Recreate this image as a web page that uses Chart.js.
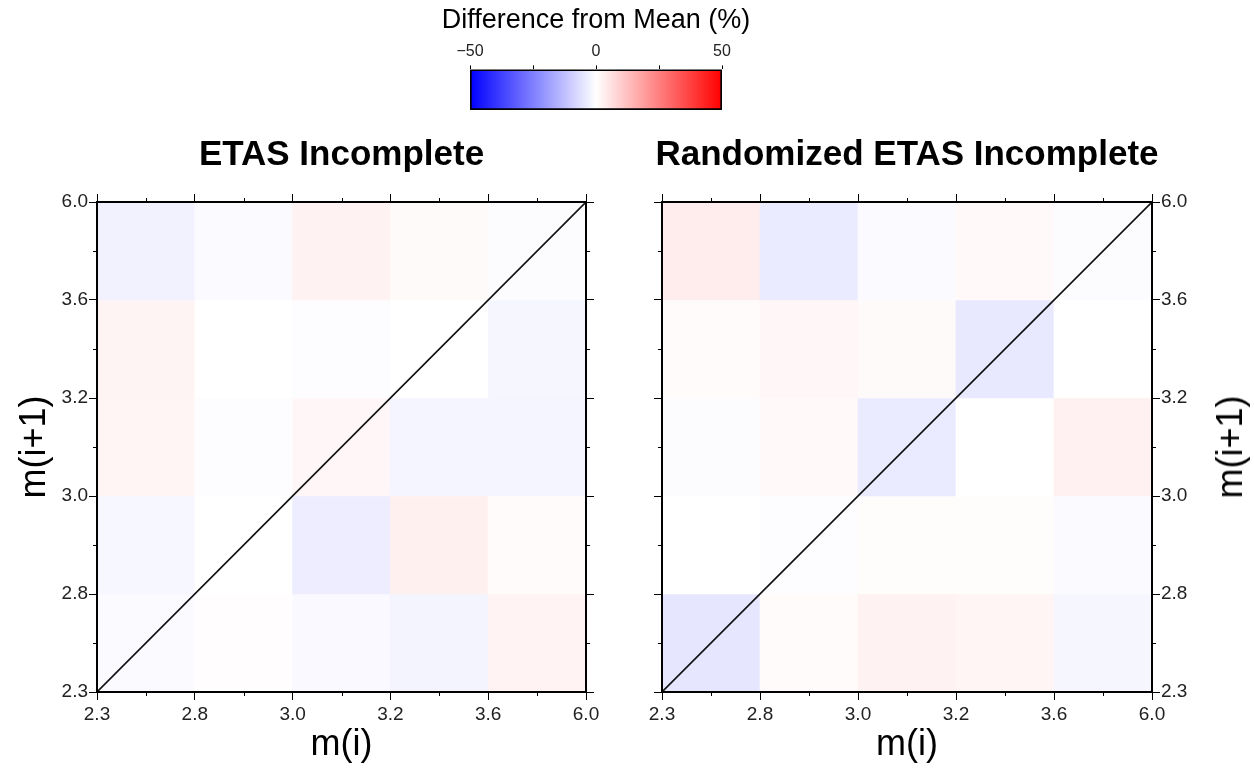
<!DOCTYPE html>
<html>
<head>
<meta charset="utf-8">
<title>Difference from Mean</title>
<script src="https://cdn.jsdelivr.net/npm/chart.js@4.4.1/dist/chart.umd.min.js"></script>
<style>
  html, body { margin: 0; padding: 0; background: #fff; }
  body { width: 1254px; height: 769px; position: relative; overflow: hidden; font-family: "Liberation Sans", Arial, sans-serif; }
  canvas { position: absolute; }
  #cbar { left: 396px; top: 0; }
  #leftChart { left: 0; top: 120px; }
  #rightChart { left: 560px; top: 120px; }
  .ylabel-right {
    position: absolute; left: 1230px; top: 447px;
    transform: translate(-50%, -50%) rotate(-90deg);
    font-family: "Liberation Sans", Arial, sans-serif;
    font-size: 36px; line-height: 1; white-space: nowrap; color: #000;
  }
</style>
</head>
<body>
<canvas id="cbar" width="400" height="125"></canvas>
<canvas id="leftChart" width="683" height="649"></canvas>
<canvas id="rightChart" width="694" height="649"></canvas>
<div class="ylabel-right">m(i+1)</div>
<script>
// magnitude bin edges, shared by both axes
const BIN_EDGES = ['2.3', '2.8', '3.0', '3.2', '3.6', '6.0'];

// difference from mean (%), rows go from the bottom bin (2.3-2.8) up to the top bin (3.6-6.0)
const ETAS_INCOMPLETE = [
    [-0.8, 0.3, -1.2, -2.2, 2.3],
    [-1.6, 0.0, -3.5, 3.0, 0.8],
    [2.0, -0.4, 1.5, -2.0, -2.0],
    [2.2, 0.0, -0.3, 0.0, -1.8],
    [-2.5, -0.8, 2.5, 1.0, -0.6]
];
const RANDOMIZED_ETAS = [
    [-5.0, 0.8, 2.5, 2.0, -1.8],
    [0.0, -0.4, 0.5, 0.6, -0.8],
    [-0.6, 1.2, -4.0, 0.0, 2.8],
    [0.8, 1.5, 1.0, -4.5, 0.0],
    [3.5, -4.0, -0.8, 1.2, -0.5]
];

const CBAR_RANGE = [-50, 50];
const CBAR_LABELS = [-50, 0, 50];

const FONT = "'Liberation Sans', Arial, sans-serif";
Chart.defaults.font.family = FONT;

// blue - white - red polar palette
function polarColor(v) {
    const t = Math.min(Math.abs(v) / CBAR_RANGE[1], 1);
    const c = Math.round(255 * (1 - t));
    return v < 0 ? `rgb(${c},${c},255)` : `rgb(255,${c},${c})`;
}

function cellData(grid) {
    const cells = [];
    grid.forEach((row, r) => {
        row.forEach((v, c) => cells.push({ x: c + 0.5, y: [r, r + 1], v }));
    });
    return cells;
}

// short ticks at the bin centres on all four sides
const minorTicks = {
    id: 'minorTicks',
    afterDraw(chart) {
        const { ctx, chartArea: a } = chart;
        const x = chart.scales.x;
        const y = chart.scales.y;
        ctx.save();
        ctx.strokeStyle = '#000';
        ctx.lineWidth = 1;
        ctx.beginPath();
        for (let i = 0; i < BIN_EDGES.length - 1; i++) {
            const px = Math.round(x.getPixelForValue(i + 0.5)) + 0.5;
            const py = Math.round(y.getPixelForValue(i + 0.5)) + 0.5;
            ctx.moveTo(px, a.bottom); ctx.lineTo(px, a.bottom + 4);
            ctx.moveTo(px, a.top); ctx.lineTo(px, a.top - 4);
            ctx.moveTo(a.left, py); ctx.lineTo(a.left - 4, py);
            ctx.moveTo(a.right, py); ctx.lineTo(a.right + 4, py);
        }
        ctx.stroke();
        ctx.restore();
    }
};

function frameAxis(axis, position, size, withLabels, title) {
    const horizontal = axis === 'x';
    return {
        type: 'linear',
        axis,
        position,
        min: 0,
        max: BIN_EDGES.length - 1,
        offset: false,
        ticks: {
            display: withLabels,
            stepSize: 1,
            autoSkip: false,
            maxRotation: 0,
            padding: horizontal ? 3 : 1,
            color: '#222',
            font: { size: 19 },
            callback: v => BIN_EDGES[v]
        },
        grid: { drawOnChartArea: false, offset: false, tickLength: 8, tickColor: '#000', tickWidth: 1 },
        border: { color: '#000', width: 2, z: 1 },
        title: title ? {
            display: true,
            text: title,
            color: '#000',
            font: { size: 36 },
            padding: horizontal ? { top: 0, bottom: 2 } : { top: 13, bottom: 0 }
        } : { display: false },
        afterFit: s => {
            if (horizontal) s.height = size; else s.width = size;
        }
    };
}

// side: 97 px either side on the left panel, 102 px on the right one, so the title centres on the plot
function heatmap(canvasId, titleText, grid, leftLabels, side) {
    new Chart(document.getElementById(canvasId), {
        type: 'bar',
        data: {
            datasets: [
                {
                    type: 'line',
                    data: [{ x: 0, y: 0 }, { x: 5, y: 5 }],
                    borderColor: '#111',
                    borderWidth: 1.6,
                    pointRadius: 0,
                    order: 0,
                    xAxisID: 'x',
                    yAxisID: 'y'
                },
                {
                    data: cellData(grid),
                    backgroundColor: ctx => polarColor(ctx.raw ? ctx.raw.v : 0),
                    borderWidth: 0,
                    barPercentage: 1,
                    categoryPercentage: 1,
                    order: 1,
                    xAxisID: 'x',
                    yAxisID: 'y'
                }
            ]
        },
        options: {
            responsive: false,
            animation: false,
            events: [],
            plugins: {
                legend: { display: false },
                tooltip: { enabled: false },
                title: {
                    display: true,
                    text: titleText,
                    color: '#000',
                    font: { size: 35, weight: 'bold' },
                    padding: { top: 14, bottom: 18 }
                }
            },
            scales: {
                x: frameAxis('x', 'bottom', 77, true, 'm(i)'),
                x2: frameAxis('x', 'top', 8, false),
                y: leftLabels
                    ? frameAxis('y', 'left', side, true, 'm(i+1)')
                    : frameAxis('y', 'right', side, true),
                y2: leftLabels
                    ? frameAxis('y', 'right', side, false)
                    : frameAxis('y', 'left', side, false)
            }
        },
        plugins: [minorTicks]
    });
}

function cbarGradient(chart) {
    const x = chart.scales.x;
    if (!x || !chart.chartArea) return 'rgba(0,0,0,0)';
    const x0 = x.getPixelForValue(CBAR_RANGE[0]);
    const x1 = x.getPixelForValue(CBAR_RANGE[1]);
    if (!isFinite(x0) || !isFinite(x1)) return 'rgba(0,0,0,0)';
    const g = chart.ctx.createLinearGradient(x0, 0, x1, 0);
    CBAR_LABELS.forEach(v => {
        g.addColorStop((v - CBAR_RANGE[0]) / (CBAR_RANGE[1] - CBAR_RANGE[0]), polarColor(v));
    });
    return g;
}

// empty side axis that only reserves room next to the colour bar
function spacerAxis(position) {
    return {
        type: 'category',
        position,
        labels: [''],
        ticks: { display: false },
        grid: { display: false },
        border: { display: false },
        afterFit: s => { s.width = 74; }
    };
}

// colour scale
new Chart(document.getElementById('cbar'), {
    type: 'bar',
    data: {
        labels: [''],
        datasets: [{
            data: [CBAR_RANGE],
            backgroundColor: ctx => cbarGradient(ctx.chart),
            borderColor: '#000',
            borderWidth: 2,
            borderSkipped: false,
            barPercentage: 1,
            categoryPercentage: 1,
            xAxisID: 'x',
            yAxisID: 'y'
        }]
    },
    options: {
        indexAxis: 'y',
        responsive: false,
        animation: false,
        events: [],
        layout: { padding: { bottom: 15 } },
        plugins: {
            legend: { display: false },
            tooltip: { enabled: false },
            title: {
                display: true,
                text: 'Difference from Mean (%)',
                color: '#000',
                font: { size: 27, weight: 'normal' },
                padding: { top: 4, bottom: 3 }
            }
        },
        scales: {
            x: {
                type: 'linear',
                position: 'top',
                min: CBAR_RANGE[0],
                max: CBAR_RANGE[1],
                offset: false,
                ticks: {
                    stepSize: 25,
                    autoSkip: false,
                    maxRotation: 0,
                    padding: 4,
                    color: '#222',
                    font: { size: 16 },
                    callback: v => CBAR_LABELS.includes(v) ? (v < 0 ? '\u2212' + Math.abs(v) : String(v)) : ''
                },
                grid: { drawOnChartArea: false, offset: false, tickLength: 4, tickColor: '#000' },
                border: { display: false },
                afterFit: s => { s.height = 30; }
            },
            y: spacerAxis('left'),
            y2: spacerAxis('right')
        }
    }
});

heatmap('leftChart', 'ETAS Incomplete', ETAS_INCOMPLETE, true, 97);
heatmap('rightChart', 'Randomized ETAS Incomplete', RANDOMIZED_ETAS, false, 102);
</script>
</body>
</html>
